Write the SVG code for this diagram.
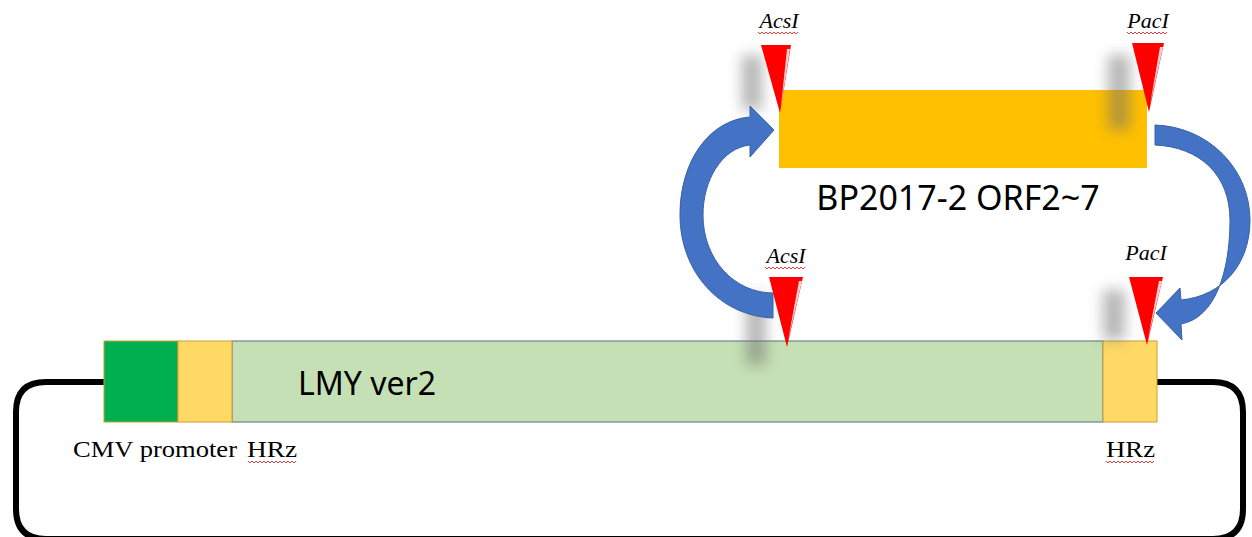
<svg xmlns="http://www.w3.org/2000/svg" width="1252" height="537" viewBox="0 0 1252 537">
<defs>
<style>
.site{font-family:"Liberation Serif",serif;font-style:italic;font-size:22px;fill:#000;text-anchor:middle}
.lab{font-family:"Liberation Serif",serif;font-size:24px;fill:#000}
.sans{font-family:"Noto Sans","Noto Sans CJK KR",sans-serif;fill:#000}
.tri{fill:#ff0000}
.hl{fill:#ffd0d0}
.arrow{fill:#4472c4;stroke:#3a62a8;stroke-width:1}
.squig{fill:none;stroke:#e04040;stroke-width:1}
.shadow{fill:#707070;opacity:0.5;filter:url(#blur)}
</style>
<filter id="blur" x="-150%" y="-60%" width="400%" height="220%"><feGaussianBlur stdDeviation="7"/></filter>
</defs>

<g id="loop">
<path d="M104 382 H46 Q16 382 16 412 V509 Q16 539 46 539 H1213 Q1243 539 1243 509 V412 Q1243 382 1213 382 H1157" fill="none" stroke="#000" stroke-width="6"/>
</g>

<g id="bar">
<rect x="232" y="341" width="871" height="81" fill="#c5e0b4" stroke="#6b8296" stroke-width="1.2"/>
<rect x="104" y="341" width="74" height="81" fill="#00b050" stroke="#c8a030" stroke-width="1"/>
<rect x="178" y="341" width="54" height="81" fill="#ffd966" stroke="#c8a030" stroke-width="1"/>
<rect x="1103" y="341" width="54" height="81" fill="#ffd966" stroke="#c8a030" stroke-width="1"/>
<text class="sans" x="298" y="395" font-size="32">LMY ver2</text>
</g>

<g id="labels">
<text class="lab" x="73" y="457" textLength="164" lengthAdjust="spacingAndGlyphs">CMV promoter</text>
<text class="lab" x="247" y="457" textLength="50" lengthAdjust="spacingAndGlyphs">HRz</text>
<path class="squig" d="M248 461 l2 2 l2 -2 l2 2 l2 -2 l2 2 l2 -2 l2 2 l2 -2 l2 2 l2 -2 l2 2 l2 -2 l2 2 l2 -2 l2 2 l2 -2 l2 2 l2 -2 l2 2 l2 -2 l2 2 l2 -2 l2 2 l2 -2"/>
<text class="lab" x="1106" y="457" textLength="49" lengthAdjust="spacingAndGlyphs">HRz</text>
<path class="squig" d="M1106 461 l2 2 l2 -2 l2 2 l2 -2 l2 2 l2 -2 l2 2 l2 -2 l2 2 l2 -2 l2 2 l2 -2 l2 2 l2 -2 l2 2 l2 -2 l2 2 l2 -2 l2 2 l2 -2 l2 2 l2 -2 l2 2 l2 -2"/>
</g>

<g id="insert">
<rect x="779" y="90" width="368" height="78" fill="#ffc000"/>
<text class="sans" x="958" y="210" font-size="34" text-anchor="middle">BP2017-2 ORF2~7</text>
</g>

<g id="shadows">
<rect class="shadow" x="742" y="55" width="20" height="55"/>
<rect class="shadow" x="1108" y="55" width="22" height="75"/>
<rect class="shadow" x="746" y="295" width="20" height="70"/>
<rect class="shadow" x="1103" y="290" width="22" height="50"/>
</g>

<g id="connectors">
<path class="arrow" d="M773 318 C720 316 680 272 680 215 C680 160 710 120 750 117 L750 106 L774 130 L750 157 L750 145 C722 148 703 180 703 215 C703 260 735 293 773 293 Z"/>
<path class="arrow" d="M1155 125 C1210 127 1250 170 1250 220 C1250 265 1222 296 1181 300 L1180 288 L1156 313 L1182 340 L1181 324 C1215 318 1230 272 1230 220 C1230 175 1200 147 1155 145 Z"/>
</g>

<g id="site-acs-top">
<text class="site" x="779" y="28">AcsI</text>
<path class="squig" d="M758 32 l2 2 l2 -2 l2 2 l2 -2 l2 2 l2 -2 l2 2 l2 -2 l2 2 l2 -2 l2 2 l2 -2 l2 2 l2 -2 l2 2 l2 -2 l2 2 l2 -2 l2 2 l2 -2"/>
<polygon class="tri" points="761,45 791,45 780,113"/>
<polygon class="hl" points="787,49 790,49 781,106"/>
</g>
<g id="site-pac-top">
<text class="site" x="1148" y="28">PacI</text>
<path class="squig" d="M1127 32 l2 2 l2 -2 l2 2 l2 -2 l2 2 l2 -2 l2 2 l2 -2 l2 2 l2 -2 l2 2 l2 -2 l2 2 l2 -2 l2 2 l2 -2 l2 2 l2 -2 l2 2 l2 -2"/>
<polygon class="tri" points="1132,43 1164,43 1149,112"/>
<polygon class="hl" points="1160,47 1163,47 1150,105"/>
</g>
<g id="site-acs-bottom">
<text class="site" x="786" y="263">AcsI</text>
<path class="squig" d="M765 267 l2 2 l2 -2 l2 2 l2 -2 l2 2 l2 -2 l2 2 l2 -2 l2 2 l2 -2 l2 2 l2 -2 l2 2 l2 -2 l2 2 l2 -2 l2 2 l2 -2 l2 2 l2 -2"/>
<polygon class="tri" points="769,277 803,277 787,347"/>
<polygon class="hl" points="799,281 802,281 788,340"/>
</g>
<g id="site-pac-bottom">
<text class="site" x="1146" y="260">PacI</text>
<polygon class="tri" points="1129,277 1163,277 1147,345"/>
<polygon class="hl" points="1159,281 1162,281 1148,338"/>
</g>
</svg>
